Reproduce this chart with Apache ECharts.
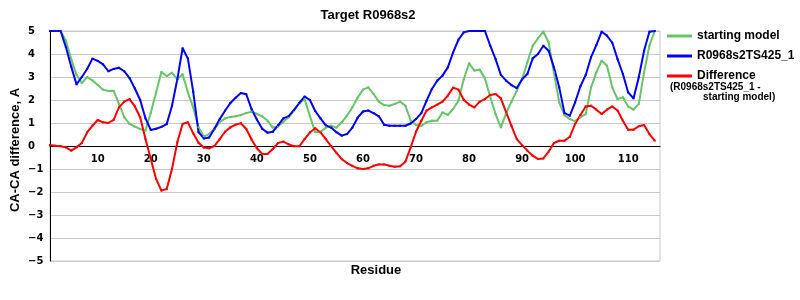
<!DOCTYPE html>
<html>
<head>
<meta charset="utf-8">
<script src="https://cdn.jsdelivr.net/npm/echarts@6/dist/echarts.min.js"></script>
<style>html,body{margin:0;padding:0;background:#fff}#c{width:800px;height:300px}</style>
</head>
<body>
<div id="c"></div>
<script>
var residues = [];
for (var i = 1; i <= 115; i++) residues.push(i);

var startingModel = [
5,5,5,4.58,3.78,3.09,2.74,3.0,2.85,2.65,
2.45,2.39,2.4,1.83,1.25,0.96,0.84,0.74,0.67,1.45,
2.33,3.22,3.04,3.19,2.9,3.12,2.33,1.68,0.81,0.41,
0.52,0.74,1.03,1.2,1.26,1.29,1.35,1.43,1.49,1.39,
1.29,1.1,0.8,0.85,1.05,1.25,1.54,1.87,2.04,1.3,
0.6,0.62,0.8,0.88,0.8,1.03,1.32,1.68,2.1,2.45,
2.55,2.26,1.93,1.78,1.75,1.83,1.93,1.75,1.1,0.91,
0.88,1.03,1.1,1.1,1.46,1.35,1.61,1.97,2.9,3.6,
3.28,3.32,2.94,2.12,1.39,0.81,1.43,1.93,2.41,2.91,
3.64,4.36,4.68,4.97,4.51,3.2,1.9,1.34,1.17,1.08,
1.25,1.39,2.55,3.2,3.71,3.49,2.55,2.04,2.12,1.72,
1.58,1.83,3.2,4.36,5
];

var modelTS425 = [
5,5,5,4.3,3.45,2.68,3.0,3.35,3.8,3.7,
3.55,3.25,3.35,3.4,3.25,2.95,2.5,2.0,1.2,0.7,
0.75,0.83,0.95,1.75,2.9,4.25,3.8,2.35,0.6,0.33,
0.37,0.75,1.17,1.53,1.87,2.1,2.3,2.25,1.6,1.15,
0.75,0.58,0.62,0.9,1.2,1.3,1.57,1.87,2.15,2.0,
1.52,1.2,0.9,0.8,0.6,0.45,0.52,0.8,1.23,1.5,
1.54,1.43,1.29,0.92,0.88,0.88,0.88,0.88,0.98,1.17,
1.43,1.97,2.48,2.84,3.06,3.42,4.07,4.62,4.94,5,
5,5,5,4.36,3.78,3.09,2.84,2.65,2.52,2.9,
3.13,3.81,4.0,4.36,4.14,3.42,2.55,1.43,1.32,1.9,
2.6,3.09,3.86,4.39,4.97,4.8,4.49,3.78,3.13,2.33,
2.07,2.99,4.14,4.97,5
];

var difference = [
0.04,0.01,-0.01,-0.06,-0.2,-0.06,0.13,0.59,0.88,1.13,
1.03,1.0,1.14,1.68,1.93,2.04,1.72,1.25,0.3,-0.57,
-1.43,-1.94,-1.87,-1.0,0.16,0.96,1.03,0.55,0.14,-0.07,
-0.1,0.0,0.3,0.62,0.81,0.93,0.99,0.74,0.28,-0.1,
-0.35,-0.35,-0.13,0.13,0.19,0.07,-0.01,-0.01,0.3,0.59,
0.77,0.59,0.3,-0.01,-0.3,-0.57,-0.74,-0.86,-0.97,-1.0,
-0.97,-0.86,-0.8,-0.8,-0.86,-0.9,-0.88,-0.68,-0.06,0.62,
1.1,1.54,1.68,1.8,1.93,2.19,2.54,2.45,2.01,1.8,
1.68,1.93,2.04,2.22,2.26,2.07,1.46,0.88,0.3,0.04,
-0.2,-0.42,-0.57,-0.54,-0.25,0.13,0.23,0.23,0.4,0.96,
1.35,1.72,1.75,1.58,1.39,1.58,1.72,1.54,1.1,0.71,
0.71,0.86,0.91,0.52,0.23
];

var xTickLabels = [10,20,30,40,50,60,70,80,90,100,110];
var seriesNames = ['starting model', 'R0968s2TS425_1', 'Difference'];

function pairs(vals) {
  return residues.map(function (r, i) { return [r, vals[i]]; });
}

var FONT = 'Liberation Sans';
var TICKFONT = 'DejaVu Sans';

var chart = echarts.init(document.getElementById('c'), null, {renderer: 'canvas'});
function mkSeries(name, vals, color) {
  return {
    name: name, type: 'line', data: pairs(vals),
    symbol: 'rect', symbolSize: 2, showSymbol: true,
    lineStyle: {color: color, width: 2},
    itemStyle: {color: color},
    emphasis: {disabled: true},
    z: 3
  };
}
chart.setOption({
  animation: false,
  backgroundColor: '#fff',
  grid: {left: 50, right: 140, top: 31, bottom: 39, show: true, borderColor: '#c8c8c8', borderWidth: 1, backgroundColor: 'transparent'},
  xAxis: {
    type: 'value', min: 1, max: 116, position: 'bottom', offset: -115,
    axisLine: {show: true, onZero: false, lineStyle: {color: '#000', width: 1}},
    axisTick: {show: false},
    splitLine: {show: false},
    axisLabel: {
      customValues: xTickLabels,
      fontFamily: TICKFONT, fontWeight: 'bold', fontSize: 10, color: '#000', margin: 8
    }
  },
  yAxis: {
    type: 'value', min: -5, max: 5, interval: 1,
    axisLine: {show: true, lineStyle: {color: '#000', width: 1}},
    axisTick: {show: false},
    splitLine: {show: true, lineStyle: {color: '#c8c8c8', width: 1}},
    axisLabel: {
      fontFamily: TICKFONT, fontWeight: 'bold', fontSize: 10, color: '#000',
      align: 'left', margin: 22,
      formatter: function (v) { return v < 0 ? '\u2212' + Math.abs(v) : String(v); }
    }
  },
  legend: {
    orient: 'vertical', left: 667, top: 30, padding: 0,
    itemWidth: 25, itemHeight: 3, itemGap: 8, icon: 'rect',
    data: seriesNames,
    textStyle: {fontFamily: FONT, fontWeight: 'bold', fontSize: 12, color: '#000'}
  },
  graphic: [
    {type: 'text', x: 368, y: 15, style: {text: 'Target R0968s2', font: 'bold 13px "Liberation Sans"', fill: '#000', align: 'center', verticalAlign: 'middle'}},
    {type: 'text', x: 376, y: 270, style: {text: 'Residue', font: 'bold 13px "Liberation Sans"', fill: '#000', align: 'center', verticalAlign: 'middle'}},
    {type: 'text', x: 15, y: 150, rotation: Math.PI / 2, style: {text: 'CA-CA difference, A', font: 'bold 13px "Liberation Sans"', fill: '#000', align: 'center', verticalAlign: 'middle'}},
    {type: 'text', x: 670, y: 87, style: {text: '(R0968s2TS425_1 -', font: 'bold 10px "Liberation Sans"', fill: '#000', align: 'left', verticalAlign: 'middle'}},
    {type: 'text', x: 703, y: 97, style: {text: 'starting model)', font: 'bold 10px "Liberation Sans"', fill: '#000', align: 'left', verticalAlign: 'middle'}}
  ],
  series: [
    mkSeries(seriesNames[0], startingModel, '#66c566'),
    mkSeries(seriesNames[1], modelTS425, '#0000ff'),
    mkSeries(seriesNames[2], difference, '#ff0000')
  ]
});
</script>
</body>
</html>
